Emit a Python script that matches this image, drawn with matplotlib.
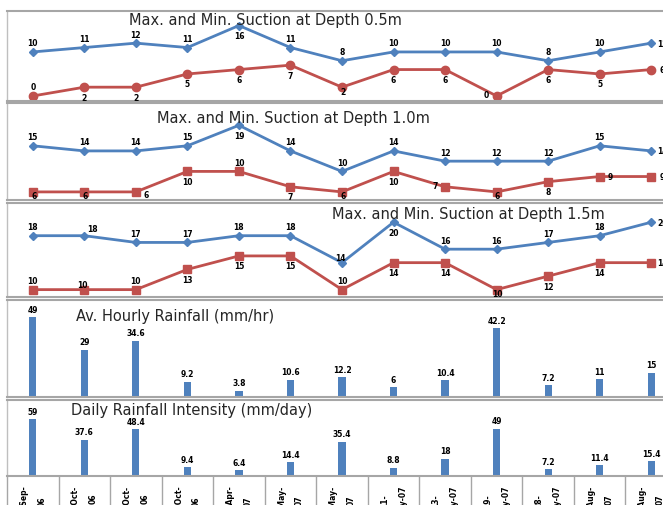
import matplotlib
matplotlib.use('Agg')
import matplotlib.pyplot as plt
import numpy as np

# ---------------- data ----------------
dates = ["15-Sep-\n06", "2-Oct-\n06", "5-Oct-\n06", "18-Oct-\n06", "25-Apr-\n07",
         "1-May-\n07", "4-May-\n07", "11-\nMay-07", "13-\nMay-07", "19-\nMay-07",
         "28-\nMay-07", "5-Aug-\n07", "9-Aug-\n07"]

max_05 = [10, 11, 12, 11, 16, 11, 8, 10, 10, 10, 8, 10, 12]
min_05 = [0, 2, 2, 5, 6, 7, 2, 6, 6, 0, 6, 5, 6]
max_10 = [15, 14, 14, 15, 19, 14, 10, 14, 12, 12, 12, 15, 14]
min_10 = [6, 6, 6, 10, 10, 7, 6, 10, 7, 6, 8, 9, 9]
max_15 = [18, 18, 17, 17, 18, 18, 14, 20, 16, 16, 17, 18, 20]
min_15 = [10, 10, 10, 13, 15, 15, 10, 14, 14, 10, 12, 14, 14]
hourly_rain = [49, 29, 34.6, 9.2, 3.8, 10.6, 12.2, 6, 10.4, 42.2, 7.2, 11, 15]
daily_rain = [59, 37.6, 48.4, 9.4, 6.4, 14.4, 35.4, 8.8, 18, 49, 7.2, 11.4, 15.4]

titles = ["Max. and Min. Suction at Depth 0.5m",
          "Max. and Min. Suction at Depth 1.0m",
          "Max. and Min. Suction at Depth 1.5m",
          "Av. Hourly Rainfall (mm/hr)",
          "Daily Rainfall Intensity (mm/day)"]

# label placement (style only)
pos_max05 = ['a', 'a', 'a', 'a', 'b', 'a', 'a', 'a', 'a', 'a', 'a', 'a', 'r']
pos_min05 = ['a', 'b', 'b', 'b', 'b', 'b', 'bs', 'b', 'b', 'l', 'b', 'b', 'r']
pos_max10 = ['a', 'a', 'a', 'a', 'b', 'a', 'a', 'a', 'a', 'a', 'a', 'a', 'r']
pos_min10 = ['bs', 'bs', 'rs', 'b', 'a', 'b', 'bs', 'b', 'l', 'bs', 'b', 'r', 'r']
pos_max15 = ['a', 'ar', 'a', 'a', 'a', 'a', 'as', 'b', 'a', 'a', 'a', 'a', 'r']
pos_min15 = ['a', 'as', 'a', 'b', 'b', 'b', 'a', 'b', 'b', 'bs', 'b', 'b', 'r']

BLUE = '#4F81BD'
RED = '#C0504D'
BORDER = '#A6A6A6'
TITLE_FONT = dict(fontsize=10.5, family='DejaVu Sans', color='#262626')

W, H = 663, 506
fig = plt.figure(figsize=(W / 100, H / 100), dpi=100)

x = np.arange(len(dates))


def add_ax(top, bot, left=7, right=677):
    ax = fig.add_axes([left / W, (H - bot) / H, (right - left) / W, (bot - top) / H])
    ax.set_xlim(-0.5, len(dates) - 0.5)
    ax.set_yticks([])
    ax.set_xticks([])
    for s in ['left', 'top', 'bottom', 'right']:
        ax.spines[s].set_color(BORDER)
        ax.spines[s].set_linewidth(1.5)
    ax.spines['left'].set_linewidth(1.0)
    ax.spines['left'].set_color('#BFBFBF')
    ax.patch.set_alpha(0)
    return ax


OFF = {'a': (0, 9), 'as': (-2, 5), 'b': (0, -10), 'bs': (1, -4), 'l': (-10, 1),
       'r': (11, 0), 'rs': (10, -3), 'ar': (8, 7)}


def labels(ax, vals, pos):
    for xi, v, p in zip(x, vals, pos):
        dx, dy = OFF[p]
        ax.annotate(f"{v:g}", (xi, v), xytext=(dx, dy), textcoords='offset pixels',
                    ha='center', va='center', fontsize=5.5, fontweight='bold',
                    color='black', annotation_clip=False, zorder=5)


def line_panel(ax, vmax, vmin, pmax, pmin, minmarker, title, tx, ty_px):
    ax.plot(x, vmax, color=BLUE, lw=2, marker='D', ms=4.5, clip_on=False)
    ax.plot(x, vmin, color=RED, lw=2, marker=minmarker, ms=6, clip_on=False)
    labels(ax, vmax, pmax)
    labels(ax, vmin, pmin)
    fig.text(tx / W, 1 - ty_px / H, title, ha='center', va='center', **TITLE_FONT)


# Panel 1: 0.5 m
ax1 = add_ax(12, 102)
ax1.set_ylim(-1.14, 19.3)
line_panel(ax1, max_05, min_05, pos_max05, pos_min05, 'o', titles[0], 265, 20)

# Panel 2: 1.0 m
ax2 = add_ax(104, 201)
ax2.set_ylim(4.42, 23.35)
line_panel(ax2, max_10, min_10, pos_max10, pos_min10, 's', titles[1], 293, 119)

# Panel 3: 1.5 m
ax3 = add_ax(204, 297.7)
ax3.set_ylim(8.95, 22.85)
line_panel(ax3, max_15, min_15, pos_max15, pos_min15, 's', titles[2], 468, 215)

# Panel 4: hourly rainfall
ax4 = add_ax(300.5, 398)
ax4.set_ylim(0, 59.8)
ax4.bar(x, hourly_rain, width=0.14, color=BLUE)
for xi, v in zip(x, hourly_rain):
    ax4.annotate(f"{v:g}", (xi, v), xytext=(0, 8), textcoords='offset pixels',
                 ha='center', va='center', fontsize=5.5, fontweight='bold')
fig.text(175 / W, 1 - 317 / H, titles[3], ha='center', va='center', **TITLE_FONT)

# Panel 5: daily rainfall
ax5 = add_ax(401, 477.3)
ax5.set_ylim(0, 78.6)
ax5.bar(x, daily_rain, width=0.14, color=BLUE)
for xi, v in zip(x, daily_rain):
    ax5.annotate(f"{v:g}", (xi, v), xytext=(0, 8), textcoords='offset pixels',
                 ha='center', va='center', fontsize=5.5, fontweight='bold')
fig.text(192 / W, 1 - 411 / H, titles[4], ha='center', va='center', **TITLE_FONT)

# category separators and tick labels
ax5.set_xticks(np.arange(-0.5, len(dates), 1.0))
ax5.set_xticklabels([])
ax5.tick_params(axis='x', which='major', length=30, width=1, color=BORDER, direction='out')
ax5.set_xticks(x, minor=True)
ax5.set_xticklabels(dates, minor=True, rotation=90, fontsize=5.5, fontweight='bold',
                    ha='center', va='top', multialignment='center', linespacing=2.3)
ax5.tick_params(axis='x', which='minor', length=0, pad=6)

fig.savefig('out.png', dpi=100)
